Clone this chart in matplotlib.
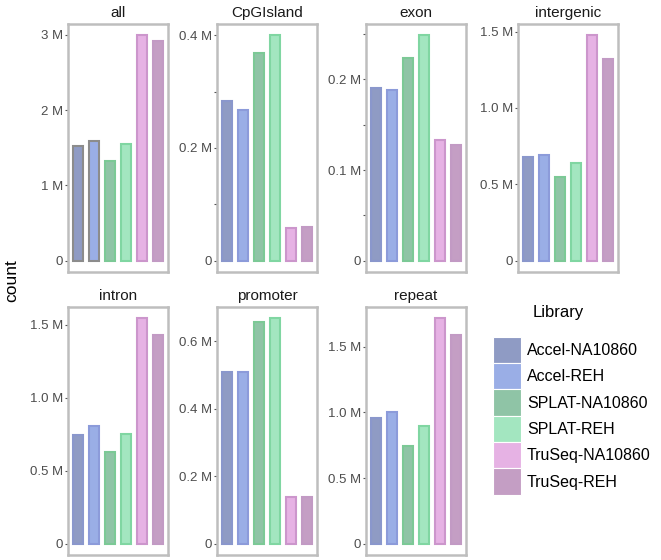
import matplotlib
matplotlib.use("Agg")
import matplotlib.pyplot as plt
from matplotlib.patches import Patch

# faceted bar chart of read counts per library and genomic feature

libraries = ["Accel-NA10860", "Accel-REH", "SPLAT-NA10860", "SPLAT-REH",
             "TruSeq-NA10860", "TruSeq-REH"]

# counts in millions, one list per facet
all_counts = [1.528, 1.585, 1.328, 1.555, 2.996, 2.917]
cpgisland_counts = [0.2836, 0.2678, 0.368, 0.400, 0.0588, 0.0600]
exon_counts = [0.1909, 0.1888, 0.2236, 0.2486, 0.1330, 0.1272]
intergenic_counts = [0.676, 0.689, 0.549, 0.641, 1.476, 1.319]
intron_counts = [0.747, 0.805, 0.632, 0.751, 1.545, 1.430]
promoter_counts = [0.5075, 0.5075, 0.658, 0.668, 0.139, 0.137]
repeat_counts = [0.958, 1.000, 0.745, 0.900, 1.718, 1.590]

facets = ["all", "CpGIsland", "exon", "intergenic", "intron", "promoter", "repeat"]
facet_counts = [all_counts, cpgisland_counts, exon_counts, intergenic_counts,
                intron_counts, promoter_counts, repeat_counts]

# tick positions (millions) and their labels, blank = unlabeled tick
facet_ticks = [
    ([0, 1, 2, 3], ["0", "1 M", "2 M", "3 M"]),
    ([0, 0.1, 0.2, 0.3, 0.4], ["0", "", "0.2 M", "", "0.4 M"]),
    ([0, 0.05, 0.1, 0.15, 0.2, 0.25], ["0", "", "0.1 M", "", "0.2 M", ""]),
    ([0, 0.5, 1.0, 1.5], ["0", "0.5 M", "1.0 M", "1.5 M"]),
    ([0, 0.5, 1.0, 1.5], ["0", "0.5 M", "1.0 M", "1.5 M"]),
    ([0, 0.2, 0.4, 0.6], ["0", "0.2 M", "0.4 M", "0.6 M"]),
    ([0, 0.5, 1.0, 1.5], ["0", "0.5 M", "1.0 M", "1.5 M"]),
]

fill_colors = ["#8F9BC4", "#9AAEE6", "#8FC4A6", "#A3E6C0", "#E6B2E4", "#C49EC4"]
edge_colors = ["#8A97CC", "#8C9BDA", "#7CC996", "#80D6A2", "#CC96CC", "#C29AC4"]

plt.rcParams['font.family'] = ['Liberation Sans', 'DejaVu Sans']

W, H = 661, 560
fig = plt.figure(figsize=(W / 100, H / 100), dpi=100)

# panel boxes in pixels: left, top
col_left = [68, 217, 366, 518]
row_top = [24, 307]
pw, ph = 100, 248

for i, (name, vals) in enumerate(zip(facets, facet_counts)):
    r, c = divmod(i, 4)
    left, top = col_left[c], row_top[r]
    ax = fig.add_axes([left / W, 1 - (top + ph) / H, pw / W, ph / H])
    xs = range(1, len(vals) + 1)
    edges = list(edge_colors)
    if name == "all":
        edges[0] = edges[1] = "#8C8C8C"
    ax.bar(xs, vals, width=0.64, color=fill_colors, edgecolor=edges, linewidth=1.5)
    m = max(vals)
    ax.set_ylim(-0.05 * m, 1.05 * m)
    ax.set_xlim(0.4, 6.6)
    ticks, labels = facet_ticks[i]
    ax.set_yticks(ticks)
    ax.set_yticklabels(labels)
    ax.set_xticks([])
    ax.tick_params(axis='y', length=2.5, width=0.8, color='#555555', pad=1,
                   labelsize=9.5, labelcolor='#4D4D4D')
    for s in ax.spines.values():
        s.set_color('#BEBEBE')
        s.set_linewidth(1.8)
    ax.set_title(name, fontsize=11, pad=5, color='#1A1A1A')

fig.text(12 / W, 1 - 281 / H, "count", rotation=90, fontsize=12.5,
         ha='center', va='center')

# legend
fig.text(533 / W, 1 - 313 / H, "Library", fontsize=12, ha='left', va='center')
handles = [Patch(facecolor=fc, edgecolor='white', linewidth=0.8) for fc in fill_colors]
fig.legend(handles, libraries, loc='upper left',
           bbox_to_anchor=(492.7 / W, 1 - 336.7 / H), frameon=False,
           fontsize=11.5, borderpad=0, borderaxespad=0, labelspacing=0,
           handlelength=1.75, handleheight=2.16, handletextpad=0.4)

fig.savefig("out.png", dpi=100)
